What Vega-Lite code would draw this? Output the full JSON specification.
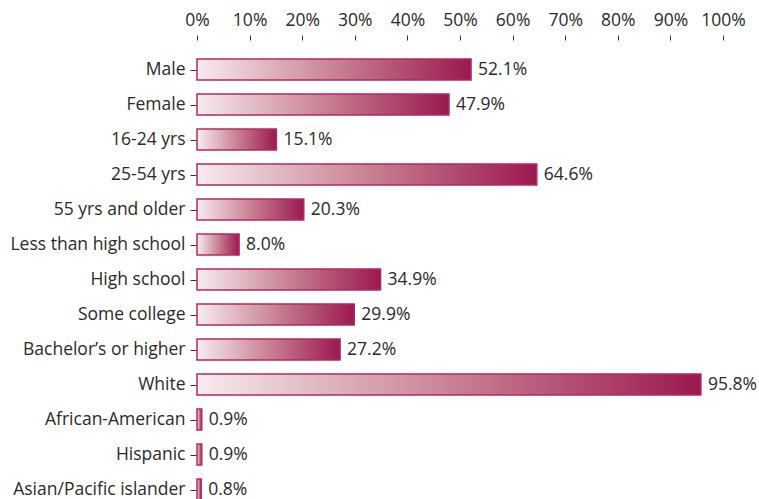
{
  "$schema": "https://vega.github.io/schema/vega-lite/v6.json",
  "autosize": {"type": "none"},
  "padding": {"left": 197, "top": 52, "right": 36, "bottom": 0},
  "width": 526,
  "height": 455,
  "background": "white",
  "config": {
    "view": {"stroke": null},
    "font": "Open Sans",
    "axis": {"labelFont": "Open Sans", "labelColor": "#2a2a2a", "labelFontSize": 17.5, "grid": false, "domain": false, "tickColor": "#333333", "tickWidth": 1, "labelOverlap": false, "labelFlush": false}
  },
  "data": {
    "values": [
      {"group": "Male", "value": 0.521},
      {"group": "Female", "value": 0.479},
      {"group": "16-24 yrs", "value": 0.151},
      {"group": "25-54 yrs", "value": 0.646},
      {"group": "55 yrs and older", "value": 0.203},
      {"group": "Less than high school", "value": 0.080},
      {"group": "High school", "value": 0.349},
      {"group": "Some college", "value": 0.299},
      {"group": "Bachelor’s or higher", "value": 0.272},
      {"group": "White", "value": 0.958},
      {"group": "African-American", "value": 0.009},
      {"group": "Hispanic", "value": 0.009},
      {"group": "Asian/Pacific islander", "value": 0.008}
    ]
  },
  "encoding": {
    "y": {
      "field": "group", "type": "nominal", "sort": null, "title": null,
      "scale": {"paddingInner": 0.4, "paddingOuter": 0.2},
      "axis": {"ticks": true, "tickSize": 7, "tickOffset": 0, "labelPadding": 5, "labelLimit": 300}
    }
  },
  "layer": [
    {
      "mark": {
        "type": "bar",
        "stroke": "#b22a62",
        "strokeWidth": 1.5,
        "color": {
          "gradient": "linear",
          "x1": 0, "y1": 0, "x2": 1, "y2": 0,
          "stops": [
            {"offset": 0, "color": "#f6ecef"},
            {"offset": 0.5, "color": "#c98293"},
            {"offset": 1, "color": "#9b1850"}
          ]
        }
      },
      "encoding": {
        "x": {
          "field": "value", "type": "quantitative", "title": null,
          "scale": {"domain": [0, 1], "nice": false},
          "axis": {"orient": "top", "format": ".0%", "values": [0,0.1,0.2,0.3,0.4,0.5,0.6,0.7,0.8,0.9,1], "offset": 12, "tickSize": 5, "labelPadding": 6}
        }
      }
    },
    {
      "mark": {"type": "text", "align": "left", "dx": 7, "fontSize": 17.5, "font": "Open Sans", "color": "#2a2a2a", "baseline": "middle"},
      "encoding": {
        "x": {"field": "value", "type": "quantitative"},
        "text": {"field": "value", "type": "quantitative", "format": ".1%"}
      }
    }
  ]
}
